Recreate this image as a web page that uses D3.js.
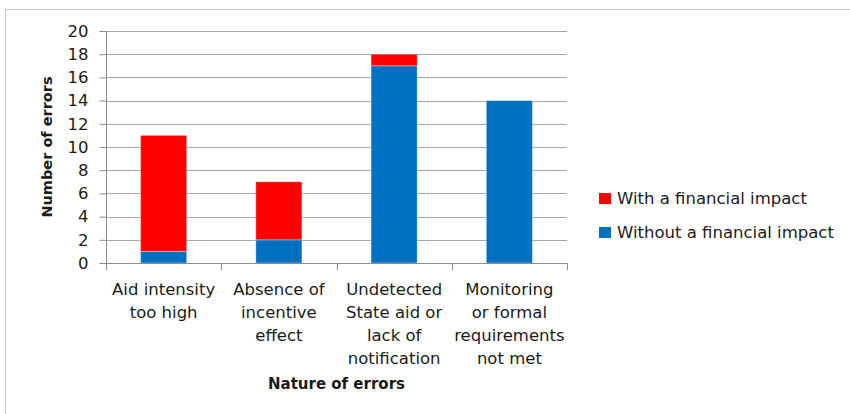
<!DOCTYPE html>
<html>
<head>
<meta charset="utf-8">
<script src="https://cdn.jsdelivr.net/npm/d3@7"></script>
<style>
  body { margin: 0; background: #fff; }
  svg text { font-family: "DejaVu Sans", sans-serif; fill: #1a1a1a; }
  .axis path, .axis line { stroke: #8c8c8c; }
  .grid line { stroke: #a8a8a8; }
</style>
</head>
<body>
<script>
(function() {

//chart data
    var categories = ["Aid intensity too high", "Absence of incentive effect",
        "Undetected State aid or lack of notification", "Monitoring or formal requirements not met"];
    //wrapped tick labels, one array per category
    var catLines = [
        ["Aid intensity", "too high"],
        ["Absence of", "incentive", "effect"],
        ["Undetected", "State aid or", "lack of", "notification"],
        ["Monitoring", "or formal", "requirements", "not met"]
    ];
    var withImpact = [10, 5, 1, 0];
    var withoutImpact = [1, 2, 17, 14];
    var yTicks = [0, 2, 4, 6, 8, 10, 12, 14, 16, 18, 20];
    var seriesNames = ["With a financial impact", "Without a financial impact"];

    var colors = { "with": "#ff0000", "without": "#0070c0" };

    var width = 850, height = 414;
    var plotLeft = 106, plotRight = 567, plotTop = 31, plotBottom = 263;

    var svg = d3.select("body").append("svg")
        .attr("width", width)
        .attr("height", height);

    //outer frame of the chart object
    svg.append("rect")
        .attr("x", 5.5).attr("y", 9.5)
        .attr("width", 900).attr("height", 500)
        .attr("fill", "none")
        .attr("stroke", "#c4c4c4");

    //bit of the cut off title above the frame
    svg.append("text")
        .attr("x", 477).attr("y", -6)
        .style("fill", "#1f5fa8")
        .style("font-size", "20px")
        .style("font-style", "italic")
        .text("y");

    var rows = categories.map(function(c, i) {
        return { cat: c, without: withoutImpact[i], "with": withImpact[i] };
    });

    var x = d3.scaleBand()
        .domain(categories)
        .range([plotLeft, plotRight])
        .paddingInner(0.6)
        .paddingOuter(0.3);

    var y = d3.scaleLinear()
        .domain([0, 20])
        .range([plotBottom, plotTop]);

    //horizontal gridlines
    svg.append("g")
        .attr("class", "grid")
        .selectAll("line")
        .data(yTicks.filter(function(t) { return t > 0; }))
        .enter().append("line")
        .attr("x1", plotLeft).attr("x2", plotRight)
        .attr("y1", function(d) { return Math.round(y(d)) + 0.5; })
        .attr("y2", function(d) { return Math.round(y(d)) + 0.5; });

    //stacked bars
    var stack = d3.stack().keys(["without", "with"]);
    var layers = stack(rows);

    svg.selectAll(".layer")
        .data(layers)
        .enter().append("g")
        .attr("class", "layer")
        .attr("fill", function(d) { return colors[d.key]; })
        .selectAll("rect")
        .data(function(d) { return d.filter(function(p) { return p[1] > p[0]; }); })
        .enter().append("rect")
        .attr("x", function(d) { return x(d.data.cat); })
        .attr("width", x.bandwidth())
        .attr("y", function(d) { return y(d[1]); })
        .attr("height", function(d) { return y(d[0]) - y(d[1]); })
        .attr("stroke", "#ffffff")
        .attr("stroke-opacity", 0.35)
        .attr("stroke-width", 1);

    //y axis
    var yAxis = d3.axisLeft(y)
        .tickValues(yTicks)
        .tickSize(7)
        .tickPadding(11)
        .tickSizeOuter(0);

    var yG = svg.append("g")
        .attr("class", "axis")
        .attr("transform", "translate(" + (plotLeft + 0.5) + ",0)")
        .call(yAxis);
    yG.attr("font-family", null);
    yG.selectAll("text").style("font-size", "16.5px").style("fill", "#1a1a1a");
    yG.select(".domain").attr("d", "M0," + plotTop + "V" + (plotBottom + 6));

    //x axis, ticks at the category edges
    var step = x.step();
    var edges = categories.map(function(c) { return x(c) - step * x.paddingInner() / 2; });
    edges.push(plotRight);

    var xG = svg.append("g").attr("class", "axis");
    xG.append("line")
        .attr("x1", plotLeft).attr("x2", plotRight)
        .attr("y1", plotBottom + 0.5).attr("y2", plotBottom + 0.5);
    xG.selectAll(".xtick")
        .data(edges)
        .enter().append("line")
        .attr("class", "xtick")
        .attr("x1", function(d) { return Math.round(d) + 0.5; })
        .attr("x2", function(d) { return Math.round(d) + 0.5; })
        .attr("y1", plotBottom)
        .attr("y2", plotBottom + 7);

    //category labels
    var labels = svg.selectAll(".catLabel")
        .data(categories)
        .enter().append("text")
        .attr("class", "catLabel")
        .attr("text-anchor", "middle")
        .style("font-size", "16.5px")
        .attr("transform", function(d) {
            return "translate(" + (x(d) + x.bandwidth() / 2) + ",295)";
        });
    labels.each(function(d, i) {
        d3.select(this).selectAll("tspan")
            .data(catLines[i])
            .enter().append("tspan")
            .attr("x", 0)
            .attr("y", function(l, j) { return j * 23; })
            .text(function(l) { return l; });
    });

    //axis titles
    svg.append("text")
        .attr("x", (plotLeft + plotRight) / 2)
        .attr("y", 389)
        .attr("text-anchor", "middle")
        .style("font-size", "15px")
        .style("font-weight", "bold")
        .text("Nature of errors");

    svg.append("text")
        .attr("transform", "translate(52,147) rotate(-90)")
        .attr("text-anchor", "middle")
        .style("font-size", "14.5px")
        .style("font-weight", "bold")
        .text("Number of errors");

    //legend
    var legend = svg.selectAll(".legend")
        .data(seriesNames)
        .enter().append("g")
        .attr("class", "legend")
        .attr("transform", function(d, i) { return "translate(599," + (193 + i * 34) + ")"; });

    legend.append("rect")
        .attr("width", 12).attr("height", 11)
        .attr("fill", function(d, i) { return i === 0 ? colors["with"] : colors.without; });

    legend.append("text")
        .attr("x", 18).attr("y", 11)
        .style("font-size", "16.5px")
        .text(function(d) { return d; });

})();
</script>
</body>
</html>
